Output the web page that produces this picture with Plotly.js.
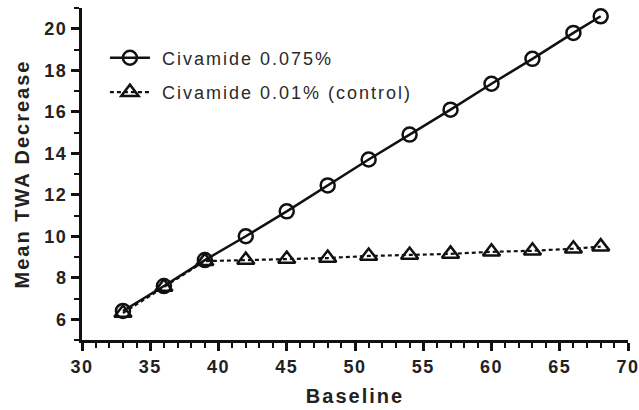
<!DOCTYPE html>
<html><head><meta charset="utf-8">
<script src="https://cdn.plot.ly/plotly-3.0.1.min.js"></script>
<style>
html,body{margin:0;padding:0;background:#fff}
.xtick text, .ytick text {letter-spacing:1.5px; font-weight:bold !important}
.g-xtitle text, .g-ytitle text {letter-spacing:2px}
.legendtext {letter-spacing:2px}
</style>
</head><body><div id="chart" style="width:639px;height:410px"></div>
<script>
const baseline = [33, 36, 39, 42, 45, 48, 51, 54, 57, 60, 63, 66, 68];
const civamide075 = [6.4, 7.6, 8.85, 10.0, 11.2, 12.45, 13.7, 14.9, 16.1, 17.35, 18.55, 19.8, 20.6];
const civamide001 = [6.3, 7.55, 8.8, 8.85, 8.9, 8.95, 9.05, 9.1, 9.15, 9.25, 9.3, 9.4, 9.5];
const seriesNames = ["Civamide 0.075%", "Civamide 0.01% (control)"];
const xTicks = [30, 35, 40, 45, 50, 55, 60, 65, 70];
const yTicks = [6, 8, 10, 12, 14, 16, 18, 20];

const ink = '#111';
const fam = 'Liberation Sans, Arial, sans-serif';
const traces = [
  {x: baseline, y: civamide075, name: '\u00A0' + seriesNames[0], legendgroup: 'a', type: 'scatter', mode: 'lines+markers',
   line: {color: ink, width: 2.5},
   marker: {symbol: 'circle-open', size: 14, color: ink, line: {width: 2.5, color: ink}}},
  {x: baseline, y: civamide001, name: '\u00A0' + seriesNames[1], legendgroup: 'b', type: 'scatter', mode: 'lines+markers',
   line: {color: ink, width: 2.2, dash: '4px,3px'},
   marker: {symbol: 'triangle-up-open', size: 15, color: ink, line: {width: 2.5, color: ink}}}
];
const layout = {
  width: 639, height: 410,
  margin: {l: 82, r: 11, t: 8, b: 70},
  paper_bgcolor: '#fff', plot_bgcolor: '#fff',
  font: {family: fam, color: ink},
  showlegend: true,
  legend: {x: 0.042, y: 0.905, xanchor: 'left', yanchor: 'top', bgcolor: 'rgba(0,0,0,0)',
           font: {size: 18, color: '#2a2a2a', family: fam}, traceorder: 'grouped', tracegroupgap: 8, itemwidth: 40},
  xaxis: {range: [30, 70], tickvals: xTicks, ticktext: xTicks.map(String), ticklabeloverflow: 'allow',
          showline: true, linewidth: 3, linecolor: ink, showgrid: false, zeroline: false,
          ticks: 'outside', ticklen: 8, tickwidth: 3, tickcolor: ink,
          minor: {dtick: 1, ticklen: 5, tickwidth: 2, tickcolor: ink, ticks: 'outside'},
          tickfont: {size: 18, family: fam, color: '#222', weight: 700},
          title: {text: '<b>Baseline</b>', font: {size: 20, color: '#222'}, standoff: 14}},
  yaxis: {range: [5, 21], tickvals: yTicks, ticktext: yTicks.map(String), ticklabeloverflow: 'allow',
          showline: true, linewidth: 3, linecolor: ink, showgrid: false, zeroline: false,
          ticks: 'outside', ticklen: 8, tickwidth: 3, tickcolor: ink,
          minor: {dtick: 1, ticklen: 5, tickwidth: 2, tickcolor: ink, ticks: 'outside'},
          tickfont: {size: 18, family: fam, color: '#222', weight: 700},
          title: {text: '<b>Mean TWA Decrease</b>', font: {size: 20, color: '#222'}, standoff: 10}}
};
Plotly.newPlot('chart', traces, layout, {displayModeBar: false, staticPlot: true});
</script></body></html>
